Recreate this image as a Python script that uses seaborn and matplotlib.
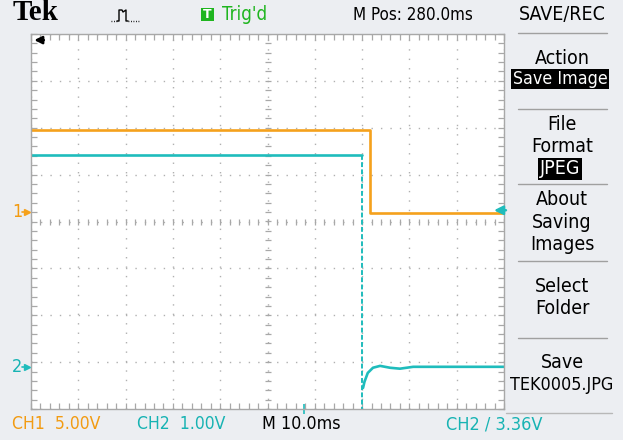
import numpy as np
import pandas as pd
import matplotlib
matplotlib.use("Agg")
import matplotlib.pyplot as plt
import seaborn as sns
from matplotlib.lines import Line2D
from matplotlib.patches import Rectangle
from matplotlib import font_manager

ch1_time_ms = [0.0, 71.7, 71.7, 100.0]
ch1_volts = [8.77, 8.77, 0.0, 0.0]

ch2_high_time_ms = [0.0, 70.0]
ch2_high_volts = [4.53, 4.53]
ch2_edge_time_ms = [70.0, 70.0]
ch2_edge_volts = [4.53, -1.2]
ch2_rec_time_ms = [70.2, 70.5, 71.2, 72.3, 73.8, 75.9, 78.0, 80.8, 100.0]
ch2_rec_volts = [-0.43, -0.30, -0.11, 0.0, 0.04, 0.0, -0.02, 0.02, 0.02]

ch1_volts_per_div = 5.0
ch2_volts_per_div = 1.0
ch1_ground_div = 0.19
ch2_ground_div = -3.12
trigger_level_v = 3.36

header_labels = ["Tek", "Trig'd", "M Pos: 280.0ms", "SAVE/REC"]
menu_labels = [("Action", False), ("Save Image", True), ("File", False), ("Format", False),
               ("JPEG", True), ("About", False), ("Saving", False), ("Images", False),
               ("Select", False), ("Folder", False), ("Save", False), ("TEK0005.JPG", False)]
status_labels = ["CH1  5.00V", "CH2  1.00V", "M 10.0ms", "CH2 / 3.36V"]

# ---------------- style ----------------
sns.set_style("white")
plt.rcParams["font.family"] = ["DejaVu Sans"]

narrow_file = None
for f in font_manager.fontManager.ttflist:
    if "dejavusanscondensed.ttf" in f.fname.lower():
        narrow_file = f.fname
        break
HAVE_NARROW = narrow_file is not None


def tprops(size_narrow, size_wide):
    if HAVE_NARROW:
        return dict(fontproperties=font_manager.FontProperties(fname=narrow_file,
                                                               size=size_narrow))
    return dict(family="DejaVu Sans", fontsize=size_wide)


ORANGE = "#f5a11c"
TEAL = "#1fbcbc"
TEAL_TXT = "#17b3b3"
ORANGE_TXT = "#f29b12"
BG = "#eceef2"
GRID = "#a8a8a8"

W, H = 623, 440
fig = plt.figure(figsize=(W / 100, H / 100), dpi=100, facecolor=BG)


def fx(x):
    return x / W


def fy(y):
    return 1 - y / H


ax = fig.add_axes([fx(31), fy(409), 473 / W, 375 / H])
ax.set_facecolor("white")
ax.set_xlim(0, 100)
ax.set_ylim(-4, 4)

d1 = pd.DataFrame({"t": ch1_time_ms,
                   "y": np.array(ch1_volts) / ch1_volts_per_div + ch1_ground_div})
d2h = pd.DataFrame({"t": ch2_high_time_ms,
                    "y": np.array(ch2_high_volts) / ch2_volts_per_div + ch2_ground_div})
d2e = pd.DataFrame({"t": ch2_edge_time_ms,
                    "y": np.array(ch2_edge_volts) / ch2_volts_per_div + ch2_ground_div})
d2r = pd.DataFrame({"t": ch2_rec_time_ms,
                    "y": np.array(ch2_rec_volts) / ch2_volts_per_div + ch2_ground_div})

# graticule
ax.set_xticks(np.arange(0, 101, 10))
ax.set_yticks(np.arange(-4, 5, 1))
ax.set_xticks(np.arange(0, 101, 2), minor=True)
ax.set_yticks(np.arange(-4, 4.01, 0.2), minor=True)
ax.tick_params(which="both", direction="in", top=True, right=True, bottom=True, left=True,
               length=4, width=0.9, color=GRID, labelbottom=False, labelleft=False,
               labeltop=False, labelright=False)
ax.grid(which="major", color="#b0b0b0", linestyle=(0, (1, 5.8)), linewidth=1.0)
for s in ax.spines.values():
    s.set_color("#a8a8a8")
    s.set_linewidth(1.0)

mx = np.arange(0, 101, 2)
ax.plot(mx, np.zeros_like(mx, dtype=float), ls="none", marker="|", markersize=4,
        markeredgewidth=0.9, color=GRID)
my = np.arange(-4, 4.01, 0.2)
ax.plot(np.full_like(my, 50.0), my, ls="none", marker="_", markersize=4,
        markeredgewidth=0.9, color=GRID)

# traces
sns.lineplot(data=d1, x="t", y="y", sort=False, estimator=None, color=ORANGE,
             linewidth=1.9, ax=ax)
sns.lineplot(data=d2h, x="t", y="y", sort=False, estimator=None, color=TEAL,
             linewidth=1.9, ax=ax)
sns.lineplot(data=d2e, x="t", y="y", sort=False, estimator=None, color=TEAL,
             linewidth=1.4, linestyle=(0, (2.5, 1.2)), ax=ax)
sns.lineplot(data=d2r, x="t", y="y", sort=False, estimator=None, color=TEAL,
             linewidth=1.9, ax=ax)
ax.set_xlabel("")
ax.set_ylabel("")

# trigger level arrow (right edge)
trig_div = trigger_level_v / ch2_volts_per_div + ch2_ground_div
ax.annotate("", xy=(97.3, trig_div), xytext=(101.0, trig_div),
            arrowprops=dict(arrowstyle="-|>", color=TEAL, lw=1.8, mutation_scale=13),
            annotation_clip=False)
# horizontal position arrow (top-left)
ax.annotate("", xy=(0.1, 3.87), xytext=(3.3, 3.87),
            arrowprops=dict(arrowstyle="-|>", color="black", lw=1.8, mutation_scale=11),
            annotation_clip=False)
# trigger position marker at bottom
ax.plot([57.7], [-4.0], marker="|", markersize=7, color=TEAL, markeredgewidth=1.2,
        clip_on=False)

# channel ground markers (left margin)
fig.text(fx(12), fy(212), "1", color=ORANGE_TXT, va="center", ha="left", **tprops(13, 11))
fig.text(fx(12), fy(367), "2", color=TEAL_TXT, va="center", ha="left", **tprops(13, 11))
fig.add_artist(Line2D([fx(22), fx(28)], [fy(212), fy(212)], color=ORANGE, lw=1.2))
fig.add_artist(Line2D([fx(27)], [fy(212)], marker=">", markersize=4, color=ORANGE))
fig.add_artist(Line2D([fx(22), fx(28)], [fy(367), fy(367)], color=TEAL, lw=1.2))
fig.add_artist(Line2D([fx(27)], [fy(367)], marker=">", markersize=4, color=TEAL))

# ---------------- header ----------------
fig.text(fx(13), fy(13), header_labels[0], family=["Liberation Serif", "DejaVu Serif"],
         fontweight="bold", fontsize=21, va="center", ha="left", color="black")
icon_x = [117, 119, 119, 122, 123, 126, 126, 128]
icon_y = [21, 21, 10, 10, 12, 10, 21, 21]
fig.add_artist(Line2D([fx(v) for v in icon_x], [fy(v) for v in icon_y], color="black", lw=1.0))
fig.add_artist(Line2D([fx(111), fx(117)], [fy(21.5), fy(21.5)], color="black", lw=1.0,
                      linestyle=(0, (0.6, 1.2))))
fig.add_artist(Line2D([fx(128), fx(140)], [fy(21.5), fy(21.5)], color="black", lw=1.0,
                      linestyle=(0, (0.6, 1.2))))
fig.add_artist(Rectangle((fx(201), fy(21)), 13 / W, 13 / H, transform=fig.transFigure,
                         facecolor="#1fb51f", edgecolor="none"))
fig.text(fx(207.5), fy(14.5), "T", color="white", fontsize=9, fontweight="bold",
         va="center", ha="center")
fig.text(fx(222), fy(15), header_labels[1], color="#1fb51f", va="center", ha="left",
         **tprops(13.5, 13))
fig.text(fx(353), fy(15), header_labels[2], color="black", va="center", ha="left",
         **tprops(12.2, 11.2))
fig.text(fx(562), fy(15), header_labels[3], color="black", va="center", ha="center",
         **tprops(14, 13))

# ---------------- side menu ----------------
for ysep in [33, 109, 184, 261, 338]:
    fig.add_artist(Line2D([fx(518), fx(607)], [fy(ysep), fy(ysep)], color="#a0a0a0", lw=1.0))
fig.add_artist(Line2D([fx(506), fx(612)], [fy(413), fy(413)], color="#b8b8b8", lw=1.0))

menu_y = [58, 79, 124, 146, 169, 199, 222, 245, 287, 309, 363, 385]
for (label, inv), yy in zip(menu_labels, menu_y):
    size_n, size_w = 14, 13
    if label == "Save Image":
        size_n, size_w = 12.8, 11.3
    elif label == "TEK0005.JPG":
        size_n, size_w = 12.9, 11.8
    if inv:
        fig.text(fx(560), fy(yy), label, color="white", va="center", ha="center",
                 bbox=dict(boxstyle="square,pad=0.08", facecolor="black", edgecolor="none"),
                 **tprops(size_n, size_w))
    else:
        fig.text(fx(562), fy(yy), label, color="black", va="center", ha="center",
                 **tprops(size_n, size_w))

# ---------------- status line ----------------
fig.text(fx(12), fy(424), status_labels[0], color=ORANGE_TXT, va="center", ha="left",
         **tprops(12.6, 11.3))
fig.text(fx(137), fy(424), status_labels[1], color=TEAL_TXT, va="center", ha="left",
         **tprops(12.6, 11.3))
fig.text(fx(262), fy(424), status_labels[2], color="black", va="center", ha="left",
         **tprops(12.8, 11.8))
fig.text(fx(446), fy(424), status_labels[3], color=TEAL_TXT, va="center", ha="left",
         **tprops(13.0, 12.0))

fig.savefig("out.png", dpi=100, facecolor=BG)
